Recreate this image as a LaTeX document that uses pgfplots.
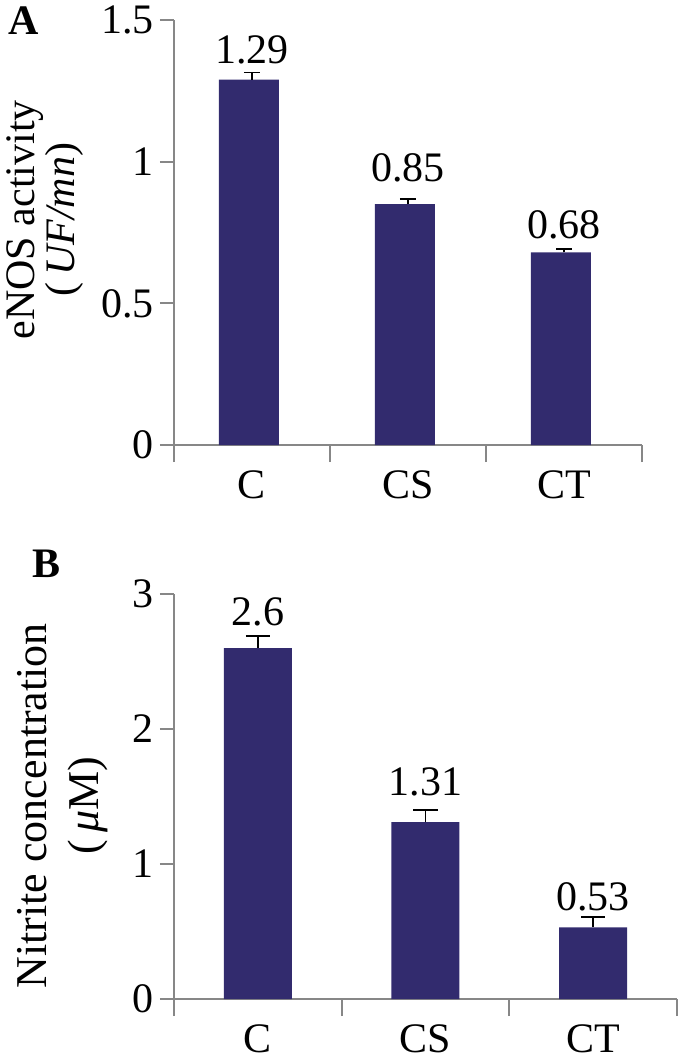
\documentclass[border=0pt]{standalone}
\usepackage{pgfplots}
\pgfplotsset{compat=1.18}
\usepackage{fontspec}
\setmainfont{Liberation Serif}
\definecolor{barc}{RGB}{50,43,110}
\definecolor{axc}{RGB}{135,135,135}
\pgfplotsset{
  panel/.style={
    scale only axis,
    axis x line=bottom, axis y line=left,
    axis line style={axc, line width=1pt, -},
    xmin=0.5, xmax=3.5, ymin=0,
    xtick={1,2,3}, xticklabels={C,CS,CT},
    major x tick style={draw=none},
    minor xtick={0.5,1.5,2.5,3.5},
    minor x tick style={axc, line width=1pt},
    minor tick length=8.5pt,
    tick align=outside,
    major tick length=7pt,
    y tick style={axc, line width=1pt},
    tick label style={font=\fontsize{21}{24}\selectfont},
    /pgf/number format/assume math mode=true,
    xticklabel style={inner sep=0pt, anchor=base, yshift=-19.5pt},
    yticklabel style={inner sep=0pt, xshift=-3pt},
    clip=false,
  },
  vlabels/.style={only marks, mark=*, mark size=0.01pt, mark options={opacity=0, draw=none, fill=none},
    nodes near coords, point meta=explicit symbolic,
    nodes near coords style={anchor=base, inner sep=0pt, opacity=1, font=\fontsize{21}{24}\selectfont}},
}
\begin{document}
\begin{tikzpicture}[font=\fontsize{21}{24}\selectfont]
\useasboundingbox (-87pt,-308pt) rectangle (253pt,222.5pt);
\begin{axis}[panel, at={(0pt,0pt)}, anchor=south west,
  width=234pt, height=212.5pt, ymax=1.5, ytick={0,0.5,1,1.5},
  ylabel={eNOS activity\\(\,\textit{UF/mn})},
  ylabel style={align=center, at={(axis description cs:-0.276,0.53)}, anchor=center, font=\fontsize{21}{18}\selectfont}]
\addplot[ybar, bar width=30pt, bar shift=-1.5pt, fill=barc, draw=none,
  error bars/.cd, y dir=plus, y explicit,
  error bar style={black, line width=0.9pt},
  error mark options={rotate=90, black, mark size=4pt, line width=0.9pt}]
  coordinates {(1,1.29) +- (0,0.025) (2,0.85) +- (0,0.017) (3,0.68) +- (0,0.012)};
\addplot[vlabels] coordinates {(1,1.347)[1.29] (2,0.929)[0.85] (3,0.7295)[0.68]};
\node[anchor=base west, inner sep=0pt, font=\fontsize{21}{24}\selectfont\bfseries] at (axis description cs:-0.355,0.967) {A};
\end{axis}
\begin{axis}[panel, at={(0pt,-277pt)}, anchor=south west,
  width=251.5pt, height=202.5pt, ymax=3, ytick={0,1,2,3},
  ylabel={Nitrite concentration\\(\,\textit{μ}M)},
  ylabel style={align=center, at={(axis description cs:-0.222,0.477)}, anchor=center, font=\fontsize{22}{26}\selectfont}]
\addplot[ybar, bar width=34pt, fill=barc, draw=none,
  error bars/.cd, y dir=plus, y explicit,
  error bar style={black, line width=0.9pt},
  error mark options={rotate=90, black, mark size=6pt, line width=0.9pt}]
  coordinates {(1,2.6) +- (0,0.09) (2,1.31) +- (0,0.09) (3,0.53) +- (0,0.08)};
\addplot[vlabels] coordinates {(1,2.770)[2.6] (2,1.511)[1.31] (3,0.659)[0.53]};
\node[anchor=base west, inner sep=0pt, font=\fontsize{21}{24}\selectfont\bfseries] at (axis description cs:-0.282,1.04) {B};
\end{axis}
\end{tikzpicture}
\end{document}
